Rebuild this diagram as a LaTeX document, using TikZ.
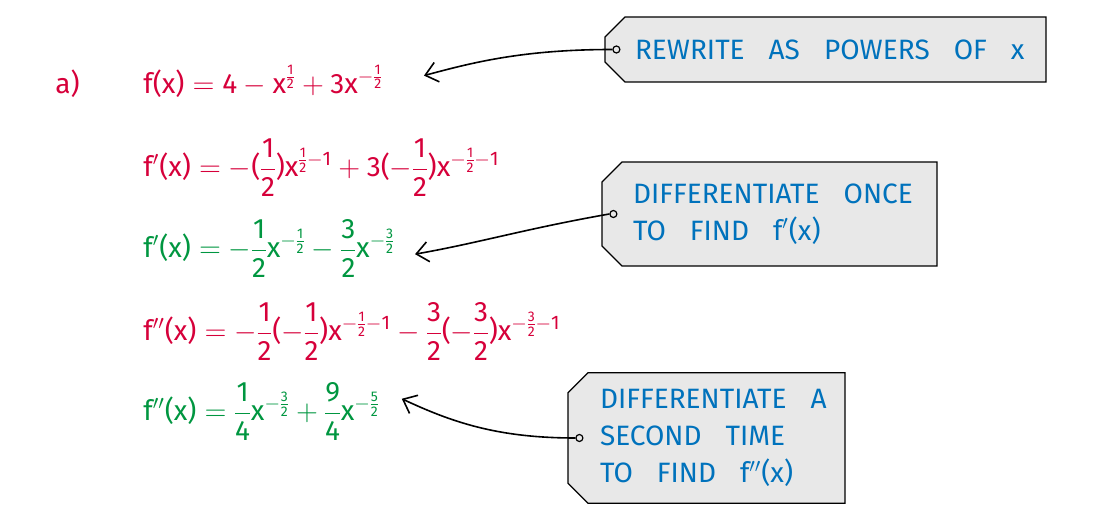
\documentclass[tikz,border=0pt]{standalone}
\usepackage{amsmath}
\usepackage{fontspec}
\setmainfont{Fira Sans}
\usetikzlibrary{arrows.meta,shapes.misc,positioning}
\DeclareSymbolFont{sansdigits}{TU}{\rmdefault}{m}{n}
\AtBeginDocument{%
	\Umathcode`1=7 \symsansdigits `1 \relax
	\Umathcode`2=7 \symsansdigits `2 \relax
	\Umathcode`3=7 \symsansdigits `3 \relax
	\Umathcode`4=7 \symsansdigits `4 \relax
	\Umathcode`5=7 \symsansdigits `5 \relax
	\Umathcode`9=7 \symsansdigits `9 \relax
	\Umathcode`(=4 \symsansdigits `( \relax
	\Umathcode`)=5 \symsansdigits `) \relax
}
\definecolor{eqred}{RGB}{214,0,58}
\definecolor{eqgreen}{RGB}{0,150,64}
\definecolor{tagblue}{RGB}{0,114,188}
\newcommand{\ex}{\mathrm{x}}
\newcommand{\ef}{\mathrm{f}}
\tikzset{%
	tag box/.style={
		chamfered rectangle,
		chamfered rectangle corners={north west,south west},
		chamfered rectangle sep=5pt,
		draw=black,
		line width=0.6pt,
		fill=black!9,
		text=tagblue,
		align=left,
		inner xsep=0pt,
		font=\fontsize{14}{18.5}\selectfont,
		execute at begin node={\spaceskip=12pt plus 1pt\relax}
	},
	tag hole/.style={
		circle,
		draw=black,
		line width=0.6pt,
		inner sep=0pt,
		minimum size=3.5pt
	},
	eq line/.style={
		anchor=base west,
		inner sep=0pt,
		font=\fontsize{14}{17}\selectfont,
		execute at begin node={\nulldelimiterspace=0.4pt\relax}
	},
	pointer/.style={
		-{Straight Barb[length=6pt,width=10pt]},
		line width=0.8pt
	},
}
\begin{document}
\begin{tikzpicture}[x=0.5pt,y=0.5pt]
		\useasboundingbox (0,0) rectangle (1100,525);
		% Working
		\node[eq line,text=eqred] (part) at (55,431) {a)};
		\node[eq line,text=eqred] (eqA) at (143,431) {$\displaystyle \ef(\ex) = 4 - \ex^{\frac{1}{2}} + 3\ex^{-\frac{1}{2}}$};
		\node[eq line,text=eqred] (eqB) at (143,348) {$\displaystyle \ef'(\ex) = -(\frac{1}{2})\ex^{\frac{1}{2}-1} + 3(-\frac{1}{2})\ex^{-\frac{1}{2}-1}$};
		\node[eq line,text=eqgreen] (eqC) at (143,267) {$\displaystyle \ef'(\ex) = -\frac{1}{2}\ex^{-\frac{1}{2}} - \frac{3}{2}\ex^{-\frac{3}{2}}$};
		\node[eq line,text=eqred] (eqD) at (143,184) {$\displaystyle \ef''(\ex) = -\frac{1}{2}(-\frac{1}{2})\ex^{-\frac{1}{2}-1} - \frac{3}{2}(-\frac{3}{2})\ex^{-\frac{3}{2}-1}$};
		\node[eq line,text=eqgreen] (eqE) at (143,104) {$\displaystyle \ef''(\ex) = \frac{1}{4}\ex^{-\frac{3}{2}} + \frac{9}{4}\ex^{-\frac{5}{2}}$};
		
		% Tags
		\node[tag box,minimum width=220.5pt,minimum height=32.5pt,text width=190.5pt] (tagA) at (825.5,475.5) {\mbox{REWRITE AS POWERS OF x}};
		\node[tag box,minimum width=167.5pt,minimum height=52pt,text width=136.5pt] (tagB) at (769.5,311) {\mbox{DIFFERENTIATE ONCE}\\TO FIND f$'$(x)};
		\node[tag box,minimum width=138.5pt,minimum height=64pt,text width=106.5pt] (tagC) at (706.5,87) {\mbox{DIFFERENTIATE A}\\SECOND TIME\\TO FIND f$''$(x)};
		\foreach \t in {A,B,C}
		\node[tag hole] (hole\t) at ([xshift=6pt]tag\t.west) {};
		
		%Pointers
		\draw[pointer,shorten >=21pt] (holeA.west) to[out=180,in=15] ([yshift=-2.5pt]eqA.east);
		\draw[pointer,shorten >=10pt] (holeB.west) to[out=190,in=10] ([yshift=-4.5pt]eqC.east);
		\draw[pointer,shorten >=12pt] (holeC.west) to[out=180,in=-25] ([yshift=11.5pt]eqE.east);
		
\end{tikzpicture}
\end{document}
